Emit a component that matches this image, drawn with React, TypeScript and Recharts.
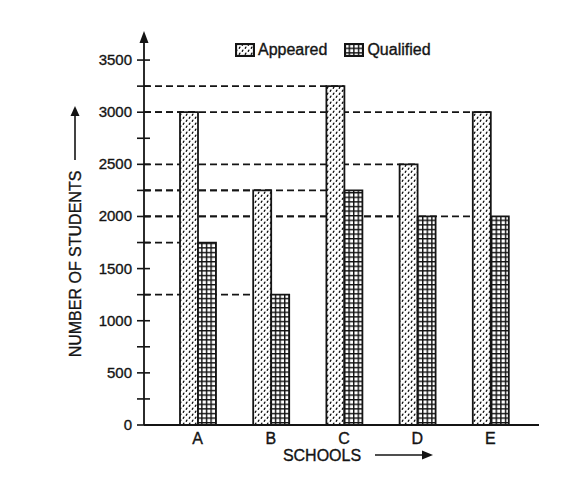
import React from "react";
import { BarChart, Bar, XAxis, YAxis, ReferenceLine, Legend } from "recharts";

// values
const schools = ["A", "B", "C", "D", "E"];
const appeared = [3000, 2250, 3250, 2500, 3000];
const qualified = [1750, 1250, 2250, 2000, 2000];
const yTicks = [0, 250, 500, 750, 1000, 1250, 1500, 1750, 2000, 2250, 2500, 2750, 3000, 3250, 3500];

const data = schools.map((school, i) => ({
  school,
  appeared: appeared[i],
  qualified: qualified[i],
}));

// dashed guides from the y axis to the top of every bar
const guides = schools.flatMap((school, i) => [
  { school, value: appeared[i] },
  { school, value: qualified[i] },
]);

const FONT = "'Liberation Sans', Arial, sans-serif";
const INK = "#141414";
// scanned print looks a bit heavier than regular weight
const TEXT_STYLE = { fontFamily: FONT, fill: INK, stroke: INK, strokeWidth: 0.35 };

const CHART_W = 570;
const CHART_H = 463;
const MARGIN = { top: 26, right: 39, left: 0, bottom: 0 };
const Y_AXIS_W = 136;
const X_AXIS_H = 46;
const PLOT_LEFT = MARGIN.left + Y_AXIS_W;
const PLOT_TOP = MARGIN.top;
const Y_TICK_SIZE = 6;
const Y_TICK_MARGIN = 6;

const patternFor: Record<string, string> = {
  Appeared: "url(#dots)",
  Qualified: "url(#grid)",
};

function Patterns() {
  return (
    <svg width={0} height={0} style={{ position: "absolute" }}>
      <defs>
        <pattern id="dots" patternUnits="userSpaceOnUse" width={6} height={6}>
          <rect width={6} height={6} fill="#fff" />
          <line x1={1.2} y1={2.3} x2={1.9} y2={1.1} stroke="#111" strokeWidth={1.3} strokeLinecap="round" />
          <line x1={4.2} y1={5.3} x2={4.9} y2={4.1} stroke="#111" strokeWidth={1.3} strokeLinecap="round" />
        </pattern>
        <pattern id="grid" patternUnits="userSpaceOnUse" width={4.6} height={4.6}>
          <rect width={4.6} height={4.6} fill="#fff" />
          <rect width={4.6} height={1.4} fill="#111" />
          <rect width={1.4} height={4.6} fill="#111" />
        </pattern>
      </defs>
    </svg>
  );
}

const YTick = (props: any) => {
  const { x, y, payload } = props;
  const axisX = x + Y_TICK_SIZE + Y_TICK_MARGIN;
  const showLabel = payload.value % 500 === 0;
  return (
    <g>
      <line x1={axisX - 7} x2={axisX + 6} y1={y} y2={y} stroke={INK} strokeWidth={1.6} />
      {showLabel && (
        <text x={x} y={y} dy={5} textAnchor="end" fontSize={15} {...TEXT_STYLE}>
          {payload.value}
        </text>
      )}
    </g>
  );
};

const XTick = (props: any) => {
  const { x, y, payload } = props;
  return (
    <text x={x} y={y} dy={12} textAnchor="middle" fontSize={16} {...TEXT_STYLE}>
      {payload.value}
    </text>
  );
};

const YTitle = () => (
  <g>
    <polygon
      points={`${PLOT_LEFT},${PLOT_TOP - 3} ${PLOT_LEFT - 4.5},${PLOT_TOP + 9} ${PLOT_LEFT + 4.5},${PLOT_TOP + 9}`}
      fill={INK}
    />
    <text x={67} y={256} transform="rotate(-90 67 256)" textAnchor="middle" dy={6} fontSize={16} {...TEXT_STYLE}>
      NUMBER OF STUDENTS
    </text>
    <line x1={67} y1={152} x2={67} y2={106} stroke={INK} strokeWidth={1.6} />
    <polygon points="67,98 62.5,108 71.5,108" fill={INK} />
  </g>
);

const XTitle = () => (
  <g>
    <text x={314} y={447} dy={6} textAnchor="middle" fontSize={16} {...TEXT_STYLE}>
      SCHOOLS
    </text>
    <line x1={367} y1={447} x2={416} y2={447} stroke={INK} strokeWidth={1.6} />
    <polygon points="425,447 414,442.5 414,451.5" fill={INK} />
  </g>
);

const GuideLine = (props: any) => (
  <line
    x1={PLOT_LEFT}
    y1={props.y1}
    x2={props.x1}
    y2={props.y1}
    stroke={INK}
    strokeWidth={1.8}
    strokeDasharray="7 4"
  />
);

const LegendContent = (props: any) => {
  const { payload = [] } = props;
  return (
    <div
      style={{
        display: "flex",
        alignItems: "center",
        fontFamily: FONT,
        fontSize: 16,
        color: INK,
        lineHeight: "14px",
        WebkitTextStroke: "0.35px #141414",
      }}
    >
      {payload.map((item: any, i: number) => (
        <div key={item.value} style={{ display: "flex", alignItems: "center", marginRight: i === 0 ? 17 : 0 }}>
          <svg width={20} height={14} style={{ display: "block" }}>
            <rect x={1} y={1} width={18} height={12} fill={patternFor[item.value]} stroke={INK} strokeWidth={2.2} />
          </svg>
          <span style={{ marginLeft: 3 }}>{item.value}</span>
        </div>
      ))}
    </div>
  );
};

export default function App() {
  return (
    <div style={{ position: "relative", width: CHART_W, height: CHART_H, background: "#fff" }}>
      <Patterns />
      <BarChart width={CHART_W} height={CHART_H} data={data} margin={MARGIN} barGap={0} barSize={18}>
        <XAxis
          dataKey="school"
          height={X_AXIS_H}
          padding={{ left: 17, right: 12 }}
          axisLine={{ stroke: INK, strokeWidth: 1.8 }}
          tickLine={false}
          tickSize={0}
          tickMargin={7}
          tick={<XTick />}
          label={<XTitle />}
        />
        <YAxis
          width={Y_AXIS_W}
          domain={[0, 3750]}
          ticks={yTicks}
          interval={0}
          allowDataOverflow
          axisLine={{ stroke: INK, strokeWidth: 1.8 }}
          tickLine={false}
          tickSize={Y_TICK_SIZE}
          tickMargin={Y_TICK_MARGIN}
          tick={<YTick />}
          label={<YTitle />}
        />
        {guides.map((g, i) => (
          <ReferenceLine
            key={`guide-${i}`}
            segment={[
              { x: g.school, y: g.value },
              { x: g.school, y: g.value },
            ]}
            shape={GuideLine}
            zIndex={100}
          />
        ))}
        <Legend
          verticalAlign="middle"
          align="center"
          content={<LegendContent />}
          wrapperStyle={{ position: "absolute", top: 35, left: 227, width: "auto", height: 14 }}
        />
        <Bar dataKey="appeared" name="Appeared" fill="url(#dots)" stroke={INK} strokeWidth={1.8} isAnimationActive={false} />
        <Bar dataKey="qualified" name="Qualified" fill="url(#grid)" stroke={INK} strokeWidth={1.8} isAnimationActive={false} />
      </BarChart>
    </div>
  );
}
